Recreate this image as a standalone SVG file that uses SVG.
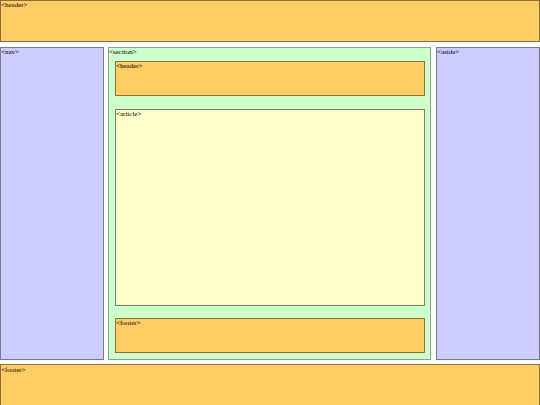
<svg xmlns="http://www.w3.org/2000/svg" width="540" height="405" viewBox="0 0 540 405">
<style>
text{font-family:"Liberation Serif",serif;font-size:7px;fill:#000}
.o{fill:#ffcc66;stroke:#8a7040;stroke-width:1}
.b{fill:#ccccff;stroke:#7a7a90;stroke-width:1}
.g{fill:#ccffcc;stroke:#90a090;stroke-width:1}
.y{fill:#ffffcc;stroke:#808070;stroke-width:1}
</style>
<rect width="540" height="405" fill="#ffffff"/>
<g id="header"><rect class="o" x="0.5" y="0.5" width="539" height="41"/><text x="1" y="6.5">&lt;header&gt;</text></g>
<g id="nav"><rect class="b" x="0.5" y="47.5" width="103" height="312"/><text x="1" y="53.5">&lt;nav&gt;</text></g>
<g id="section"><rect class="g" x="108.5" y="47.5" width="322" height="312"/><text x="109" y="53.5">&lt;section&gt;</text></g>
<g id="section-header"><rect class="o" x="115.5" y="61.5" width="309" height="34"/><text x="116" y="67.5">&lt;header&gt;</text></g>
<g id="article"><rect class="y" x="115.5" y="109.5" width="309" height="196"/><text x="116" y="115.5">&lt;article&gt;</text></g>
<g id="section-footer"><rect class="o" x="115.5" y="318.5" width="309" height="34"/><text x="116" y="324.5">&lt;footer&gt;</text></g>
<g id="aside"><rect class="b" x="436.5" y="47.5" width="103" height="312"/><text x="437" y="53.5">&lt;aside&gt;</text></g>
<g id="footer"><rect class="o" x="0.5" y="364.5" width="539" height="41"/><text x="1" y="371.5">&lt;footer&gt;</text></g>
<g id="connectors"/>
</svg>
